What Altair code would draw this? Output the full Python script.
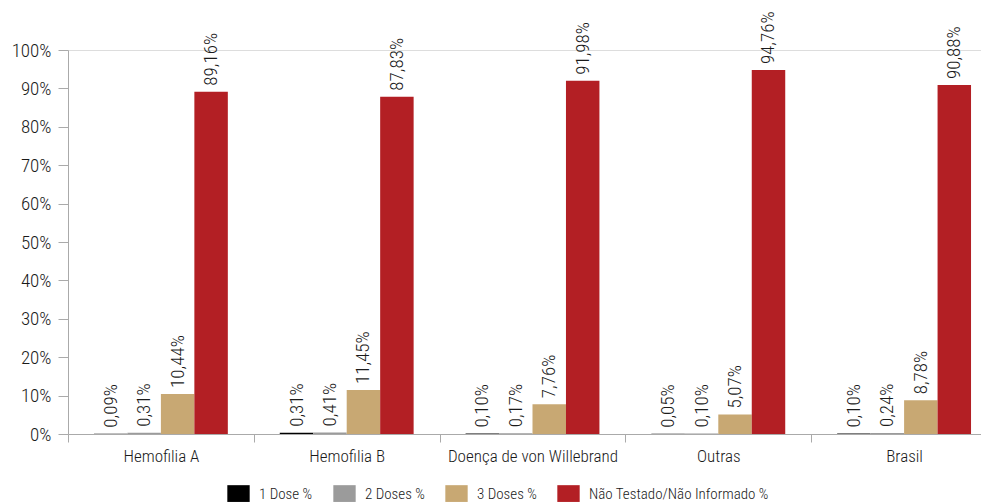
import altair as alt
import pandas as pd

categories = ["Hemofilia A", "Hemofilia B", "Doença de von Willebrand", "Outras", "Brasil"]
series = ["1 Dose %", "2 Doses %", "3 Doses %", "Não Testado/Não Informado %"]
dose1 = [0.09, 0.31, 0.10, 0.05, 0.10]
dose2 = [0.31, 0.41, 0.17, 0.10, 0.24]
dose3 = [10.44, 11.45, 7.76, 5.07, 8.78]
nao_testado = [89.16, 87.83, 91.98, 94.76, 90.88]
colors = ["#000000", "#9b9b9b", "#c8a873", "#b31f24"]
y_ticks = [0, 0.1, 0.2, 0.3, 0.4, 0.5, 0.6, 0.7, 0.8, 0.9, 1.0]

rows = []
for s, vals in zip(series, [dose1, dose2, dose3, nao_testado]):
    for c, v in zip(categories, vals):
        rows.append({
            "cat": c,
            "serie": s,
            "valor": v / 100.0,
            "rotulo": f"{v:.2f}".replace(".", ",") + "%",
        })
df = pd.DataFrame(rows)

FONT = "Roboto Condensed, Liberation Sans Narrow, DejaVu Sans Condensed, sans-serif"
WEIGHT = 300

x = alt.X(
    "cat:N",
    sort=categories,
    scale=alt.Scale(range=[0, 929], paddingInner=0, paddingOuter=0),
    axis=alt.Axis(
        title=None,
        labelAngle=0,
        tickBand="extent",
        tickSize=8,
        tickColor="#aaaaaa",
        domainColor="#aaaaaa",
        labelFontSize=17,
        labelPadding=6,
        labelColor="#1a1a1a",
        labelFont=FONT,
        labelFontWeight=WEIGHT,
    ),
)
xo = alt.XOffset(
    "serie:N",
    sort=series,
    scale=alt.Scale(domain=series, paddingInner=0, paddingOuter=0.776),
)
y = alt.Y(
    "valor:Q",
    scale=alt.Scale(domain=[0, 1], nice=False),
    axis=alt.Axis(
        title=None,
        values=y_ticks,
        format=".0%",
        grid=False,
        tickSize=10,
        tickColor="#aaaaaa",
        domainColor="#aaaaaa",
        labelFontSize=19,
        labelPadding=7,
        labelColor="#1a1a1a",
        labelFont=FONT,
        labelFontWeight=WEIGHT,
    ),
)

bars = alt.Chart(df).mark_bar().encode(
    x=x,
    xOffset=xo,
    y=y,
    color=alt.Color(
        "serie:N",
        sort=series,
        scale=alt.Scale(domain=series, range=colors),
        title=None,
        legend=alt.Legend(
            orient="none",
            legendX=159,
            legendY=432,
            direction="horizontal",
            columns=4,
            symbolType="M-1,-0.75H1V0.75H-1Z",
            symbolSize=500,
            symbolStrokeWidth=0,
            symbolOpacity=1,
            labelFontSize=15,
            labelOffset=9,
            labelLimit=400,
            columnPadding=20,
            labelColor="#1a1a1a",
            labelFont=FONT,
            labelFontWeight=WEIGHT,
        ),
    ),
)

labels = alt.Chart(df).mark_text(
    angle=270,
    align="left",
    baseline="middle",
    dx=6,
    fontSize=19,
    font=FONT,
    fontWeight=WEIGHT,
    color="#1a1a1a",
).encode(
    x=x,
    xOffset=xo,
    y=y,
    text="rotulo:N",
)

chart = (
    alt.layer(bars, labels)
    .properties(
        width=913,
        height=384,
        autosize=alt.AutoSizeParams(type="none"),
        padding={"left": 68, "top": 50, "right": 0, "bottom": 70},
    )
    .configure_view(stroke=None)
    .configure(background="white")
)

chart.save("out.html", embed_options={"renderer": "svg", "actions": False})
